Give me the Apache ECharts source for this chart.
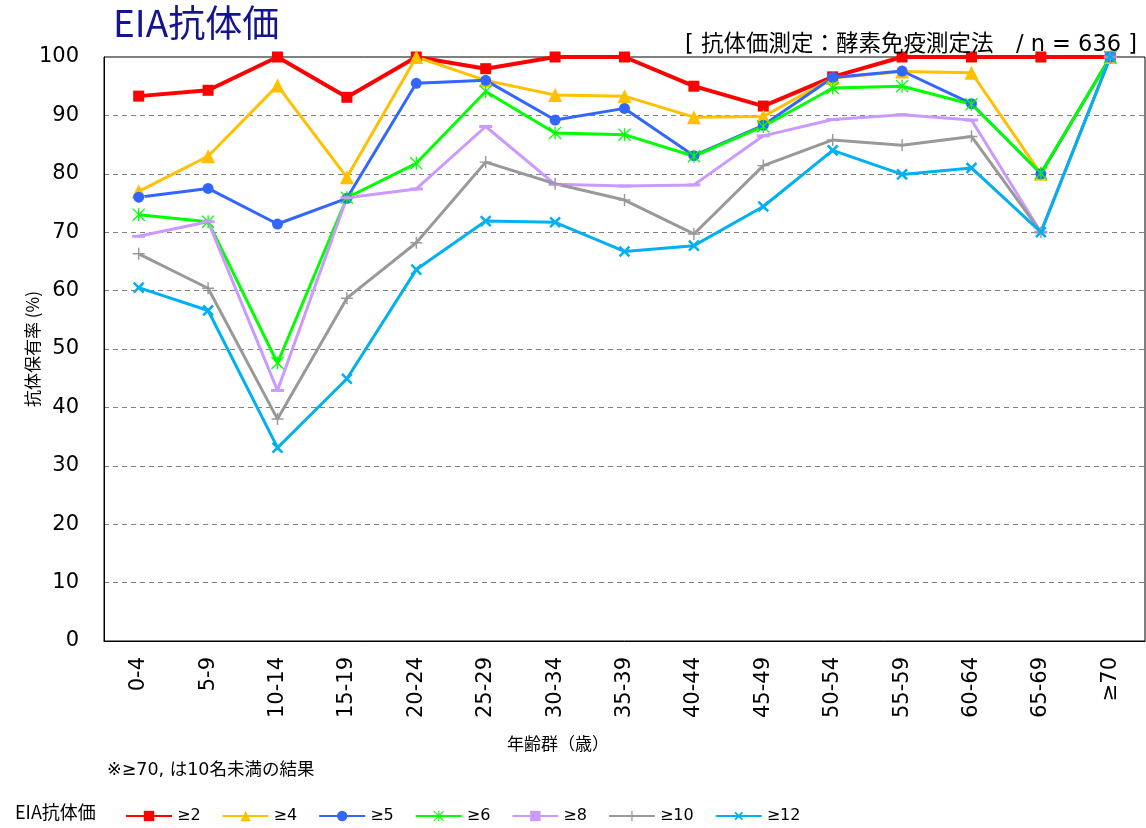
<!DOCTYPE html>
<html>
<head>
<meta charset="utf-8">
<script src="https://cdn.jsdelivr.net/npm/echarts@6/dist/echarts.min.js"></script>
<style>
  html, body { margin: 0; padding: 0; background: #fff; }
  #chart { width: 1146px; height: 828px; }
</style>
</head>
<body>
<div id="chart"></div>
<script>
// age groups
const ageGroups = ["0-4", "5-9", "10-14", "15-19", "20-24", "25-29", "30-34", "35-39",
  "40-44", "45-49", "50-54", "55-59", "60-64", "65-69", "≥70"];
const yTicks = [0, 10, 20, 30, 40, 50, 60, 70, 80, 90, 100];

// 抗体保有率 (%) by titre threshold
const ge2 = [93.3, 94.3, 100, 93.1, 100, 98.0, 100, 100, 95.0, 91.6, 96.6, 100, 100, 100, 100];
const ge4 = [77.0, 83.0, 95.1, 79.4, 100, 96.0, 93.5, 93.3, 89.7, 89.8, 96.4, 97.5, 97.3, 80.0, 100];
const ge5 = [76.0, 77.5, 71.4, 75.8, 95.5, 96.0, 89.2, 91.2, 83.1, 88.3, 96.5, 97.6, 92.0, 80.0, 100];
const ge6 = [73.0, 71.8, 47.6, 75.9, 81.8, 94.1, 87.0, 86.7, 83.0, 88.1, 94.7, 95.0, 91.9, 80.1, 100];
const ge8 = [69.3, 71.8, 42.9, 75.9, 77.4, 88.1, 78.2, 77.9, 78.1, 86.5, 89.3, 90.1, 89.2, 70.0, 100];
const ge10 = [66.3, 60.4, 38.0, 58.7, 68.2, 82.0, 78.3, 75.5, 69.7, 81.4, 85.8, 84.9, 86.4, 70.0, 100];
const ge12 = [60.5, 56.6, 33.1, 44.9, 63.6, 71.9, 71.7, 66.7, 67.7, 74.4, 84.0, 79.9, 81.0, 70.0, 100];

const seriesNames = ["≥2", "≥4", "≥5", "≥6", "≥8", "≥10", "≥12"];
const seriesColors = ["#ff0000", "#ffc000", "#3366ff", "#00ff00", "#cc99ff", "#999999", "#00b0f0"];

// marker shapes
const plusPath = "path://M4.4,0H5.6V10H4.4Z M0,4.4H10V5.6H0Z";
const xPath = "path://M4.1,0H5.9V10H4.1Z M0,4.1H10V5.9H0Z";
const starPath = "path://M4.5,0H5.5V10H4.5Z M0,0.7L0.7,0L10,9.3L9.3,10Z M9.3,0L10,0.7L0.7,10L0,9.3Z";
const dashPath = "path://M0,0H10V2H0Z";

const font = "'DejaVu Sans', 'Noto Sans CJK JP', sans-serif";
const cjk = "'Noto Sans CJK JP', sans-serif";

const makeSeries = (name, data, color, symbol, size, width, rotate) => ({
  name: name,
  type: "line",
  data: data,
  symbol: symbol,
  symbolSize: size,
  symbolRotate: rotate || 0,
  showAllSymbol: true,
  lineStyle: { color: color, width: width },
  itemStyle: { color: color },
  emphasis: { disabled: true },
  animation: false,
});

const chart = echarts.init(document.getElementById("chart"));
const option = {
  backgroundColor: "#fff",
  title: [
    {
      text: "EIA抗体価",
      left: 108, top: -1,
      textStyle: { fontFamily: cjk, fontSize: 37, fontWeight: "normal", color: "#14148c" },
    },
    {
      text: "[ 抗体価測定：酵素免疫測定法　/ n = 636 ]",
      right: 4, top: 29,
      textStyle: { fontFamily: font, fontSize: 22.5, fontWeight: "normal", color: "#000" },
    },
  ],
  graphic: [
    // y axis name
    { type: "text", x: 33, y: 349, rotation: Math.PI / 2,
      style: { text: "抗体保有率 (%)", font: "17px " + cjk, fill: "#000", align: "center", verticalAlign: "middle" } },
    { type: "text", left: 507, top: 735,
      style: { text: "年齢群（歳）", font: "17px " + cjk, fill: "#000" } },
    { type: "text", left: 107, top: 762,
      style: { text: "※≥70, は10名未満の結果", font: "17.5px " + font, fill: "#000" } },
    { type: "text", left: 15, top: 803,
      style: { text: "EIA抗体価", font: "18px " + cjk, fill: "#000" } },
  ],
  legend: {
    left: 120, top: 803,
    itemWidth: 46, itemHeight: 13, itemGap: 21,
    textStyle: { fontFamily: font, fontSize: 16, color: "#000" },
    data: seriesNames,
  },
  grid: { left: 104, top: 57, right: 1, bottom: 187, show: true, borderColor: "#000", borderWidth: 1 },
  xAxis: {
    type: "category",
    data: ageGroups,
    boundaryGap: true,
    axisLine: { lineStyle: { color: "#000" } },
    axisTick: { show: false },
    axisLabel: { rotate: 90, fontFamily: font, fontSize: 21, color: "#000", margin: 16, interval: 0 },
  },
  yAxis: {
    type: "value",
    min: yTicks[0], max: yTicks[yTicks.length - 1], interval: 10,
    axisLine: { show: true, lineStyle: { color: "#000" } },
    axisTick: { show: false },
    axisLabel: { fontFamily: font, fontSize: 21, color: "#000", margin: 25 },
    splitLine: { lineStyle: { color: "#808080", type: [5, 4], width: 1 } },
  },
  series: [
    makeSeries(seriesNames[0], ge2, seriesColors[0], "rect", 11, 4),
    makeSeries(seriesNames[1], ge4, seriesColors[1], "triangle", 14, 3),
    makeSeries(seriesNames[2], ge5, seriesColors[2], "circle", 11, 3),
    makeSeries(seriesNames[3], ge6, seriesColors[3], starPath, 13, 3),
    makeSeries(seriesNames[4], ge8, seriesColors[4], dashPath, [13, 3], 3),
    makeSeries(seriesNames[5], ge10, seriesColors[5], plusPath, 12, 3),
    makeSeries(seriesNames[6], ge12, seriesColors[6], xPath, 14, 3, 45),
  ],
};
option && chart.setOption(option);
</script>
</body>
</html>
